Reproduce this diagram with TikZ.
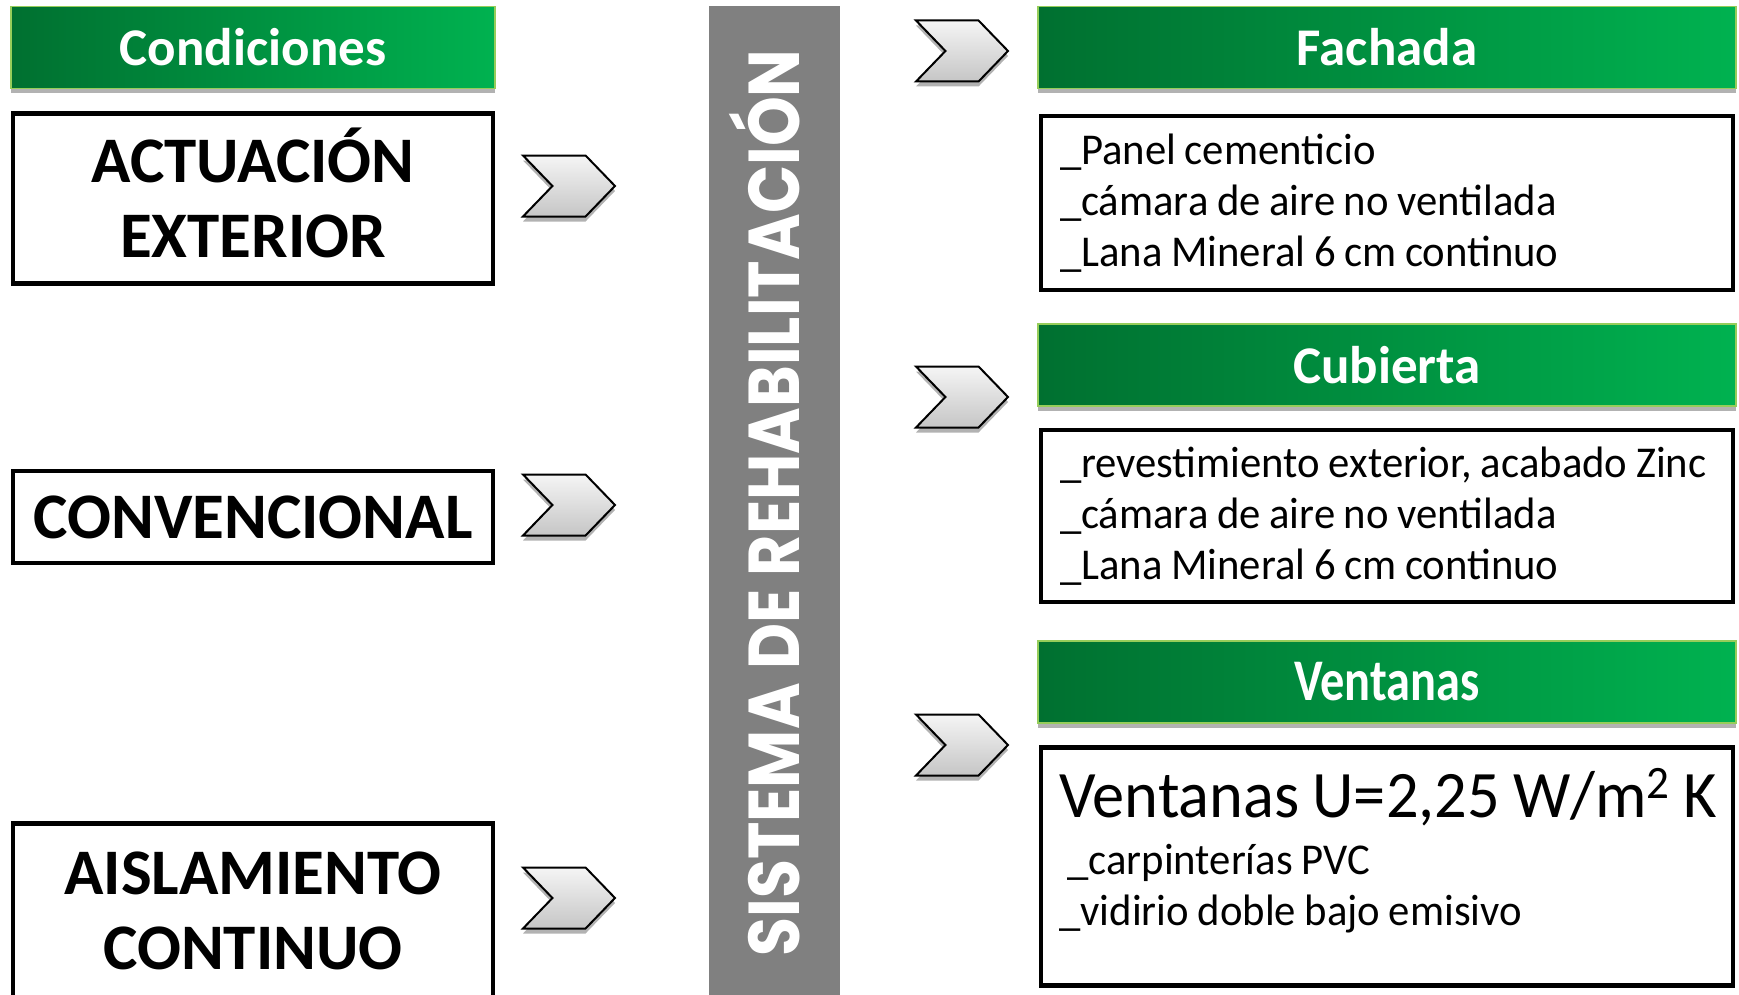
\documentclass[tikz,border=0pt]{standalone}
\usepackage{fontspec}
\usepackage{graphicx}
\setmainfont{Carlito}
\newfontfamily\barfont{Poppins}
\newfontfamily\listfont[FakeStretch=0.97,WordSpace=0.9]{Carlito}
\usetikzlibrary{shapes.symbols,shadows}
\definecolor{hdrdark}{RGB}{0,112,48}
\definecolor{hdrlight}{RGB}{0,178,80}
\definecolor{hdredge}{RGB}{150,205,90}
\definecolor{bargray}{RGB}{128,128,128}
\begin{document}
\begin{tikzpicture}[x=0.5pt,y=-0.5pt,
    header/.style={draw=hdredge, line width=0.6pt, left color=hdrdark, right color=hdrlight,
      inner sep=0pt, minimum height=41pt, text=white,
      font=\bfseries\fontsize{26.5}{30}\selectfont,
      drop shadow={shadow xshift=0pt, shadow yshift=-2.5pt, opacity=0.3, fill=black}},
    condbox/.style={draw, line width=2.2pt, inner sep=0pt, minimum width=240pt, align=center,
      font=\bfseries\fontsize{32.5}{37.5}\selectfont},
    listbox/.style={draw, line width=2.2pt, inner xsep=9.5pt, inner ysep=0pt, text width=327pt,
      align=left, font=\listfont\fontsize{22}{25.5}\selectfont},
    chevron/.style={signal, signal from=west, signal to=east, signal pointer angle=92,
      draw, line width=1pt, inner sep=0pt, minimum width=46pt, minimum height=30.5pt,
      top color=gray!8, bottom color=gray!45,
      drop shadow={shadow xshift=0pt, shadow yshift=-2.5pt, opacity=0.3, fill=black}}]
  \useasboundingbox (0,0) rectangle (1739,995);

  % left column: conditions
  \node (cond) [header, minimum width=242pt] at (253,47.5) {Condiciones};
  \node (actext) [condbox, minimum height=85pt] at (253,198.5) {ACTUACI\smash{Ó}N\\EXTERIOR};
  \node (conv) [condbox, minimum height=46pt] at (253,517) {CONVENCIONAL};
  \node (aisl) [condbox, minimum height=87pt] at (253,910.5) {AISLAMIENTO\\CONTINUO};

  \node (chl1) [chevron] at (569,186) {};
  \node (chl2) [chevron] at (569,505) {};
  \node (chl3) [chevron] at (569,898) {};

  % central bar
  \node (bar) [fill=bargray, rotate=90, inner sep=0pt, minimum width=497pt, minimum height=65.5pt,
    text=white, font=\barfont\bfseries\fontsize{36}{40}\selectfont,
    drop shadow={shadow xshift=0pt, shadow yshift=0pt, opacity=0.15, fill=black}]
    at (774.5,503) {\scalebox{0.88}[1]{SISTEMA DE REHABILITACI\smash{Ó}N}};

  % right column: solutions
  \node (chr1) [chevron] at (962,51) {};
  \node (chr2) [chevron] at (962,397) {};
  \node (chr3) [chevron] at (962,745) {};

  \node (fach) [header, minimum width=349pt] at (1387,47.5) {Fachada};
  \node (fachbox) [listbox, minimum height=87pt] at (1387,203)
    {\spaceskip=0pt\relax\_Panel cementicio\\\_cámara de aire no ventilada\\\_Lana Mineral 6 cm continuo};

  \node (cubi) [header, minimum width=349pt] at (1387,365) {Cubierta};
  \node (cubibox) [listbox, minimum height=86pt] at (1387,516)
    {\spaceskip=0pt\relax\_revestimiento exterior, acabado Zinc\\\_cámara de aire no ventilada\\\_Lana Mineral 6 cm continuo};

  \node (vent) [header, minimum width=349pt,
    font=\bfseries\fontsize{29.5}{32}\selectfont] at (1387,682)
    {\scalebox{0.82}[1]{Ventanas}};
  \node (ventbox) [listbox, minimum height=119pt] at (1387,866.5) {};
  \node (ventu) [anchor=base west, inner sep=0pt, font=\listfont\fontsize{33.2}{40}\selectfont]
    at (1059,817) {Ventanas U=2,25 W/m\textsuperscript{2} K};
  \node (ventpvc) [anchor=base west, inner sep=0pt, font=\listfont\fontsize{22}{25.5}\selectfont]
    at (1067,874) {\_carpinterías PVC};
  \node (ventvid) [anchor=base west, inner sep=0pt, font=\listfont\fontsize{22}{25.5}\selectfont]
    at (1059,925) {\_vidirio doble bajo emisivo};
\end{tikzpicture}
\end{document}
